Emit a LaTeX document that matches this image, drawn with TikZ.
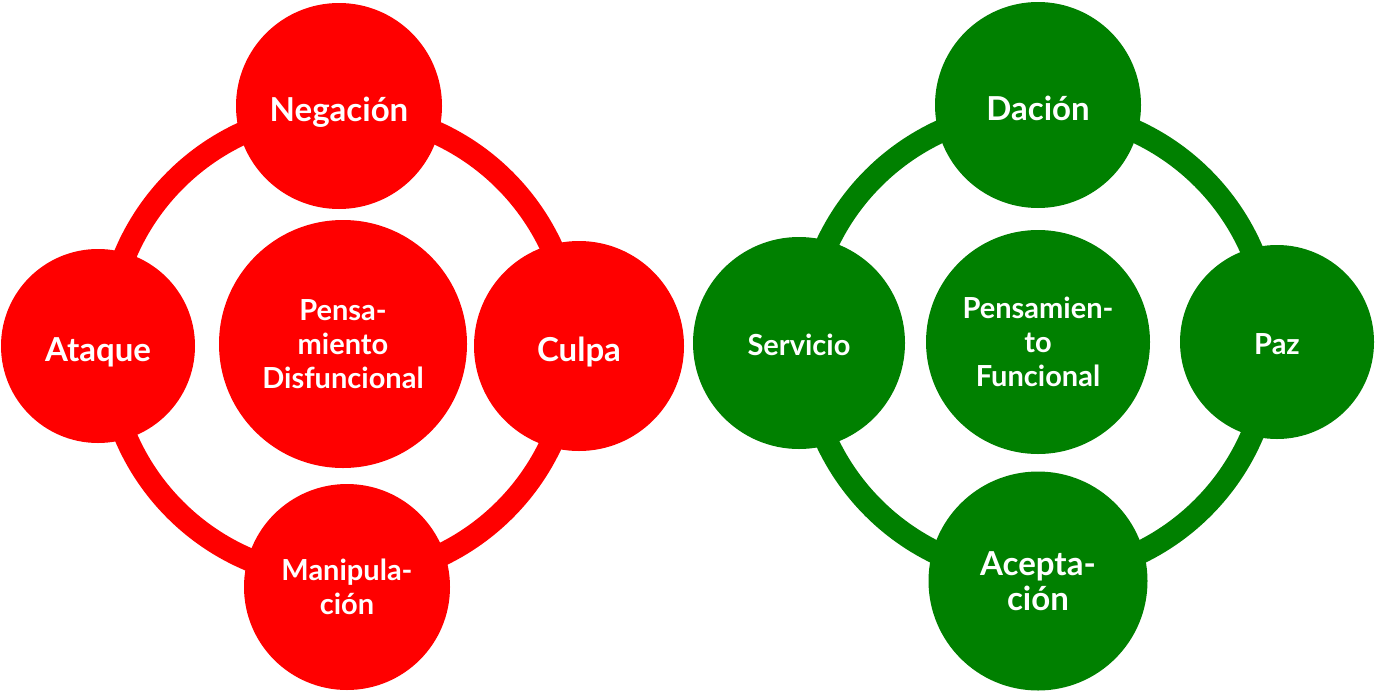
\documentclass[tikz,border=0pt]{standalone}
\usepackage{fontspec}
\setmainfont{Lato}
\definecolor{rojo}{RGB}{255,0,0}
\definecolor{verde}{RGB}{0,128,0}
\tikzset{
  bubble/.style={circle, inner sep=0pt, text=white, align=center,
    font=\bfseries\fontsize{33}{35}\selectfont},
  smalltext/.style={font=\bfseries\fontsize{29}{34}\selectfont},
  oneline/.style={text height=#1, text depth=0pt},
  ring/.style={line width=23pt}
}
\begin{document}
\begin{tikzpicture}[x=1pt,y=-1pt]
      \def\r{233pt};
      \useasboundingbox (0,0) rectangle (1375,691);
      % dysfunctional side
      \draw[ring, rojo] (340,345) circle (\r);
      \node[bubble, smalltext, fill=rojo, minimum size=248pt] (disf) at (343,344) {Pensa-\\miento\\Disfuncional};
      \node[bubble, oneline=31pt, fill=rojo, minimum size=206pt] (neg) at (339,106) {Negación};
      \node[bubble, oneline=31pt, fill=rojo, minimum size=194pt] (ata) at (98,346) {Ataque};
      \node[bubble, oneline=31pt, fill=rojo, minimum size=210pt] (cul) at (579,346) {Culpa};
      \node[bubble, smalltext, fill=rojo, minimum size=206pt] (man) at (347,587) {Manipula-\\ción};
      % functional side
      \draw[ring, verde] (1038,343) circle (\r);
      \node[bubble, smalltext, fill=verde, minimum size=224pt] (func) at (1038,342) {Pensamien-\\to\\Funcional};
      \node[bubble, oneline=31pt, fill=verde, minimum size=206pt] (dac) at (1038,105) {Dación};
      \node[bubble, smalltext, oneline=24pt, fill=verde, minimum size=212pt] (ser) at (799,343) {Servicio};
      \node[bubble, smalltext, oneline=24pt, fill=verde, minimum size=194pt] (paz) at (1277,342) {Paz};
      \node[bubble, fill=verde, minimum size=219pt] (ace) at (1038,581) {Acepta-\\ción};
    \end{tikzpicture}
\end{document}
